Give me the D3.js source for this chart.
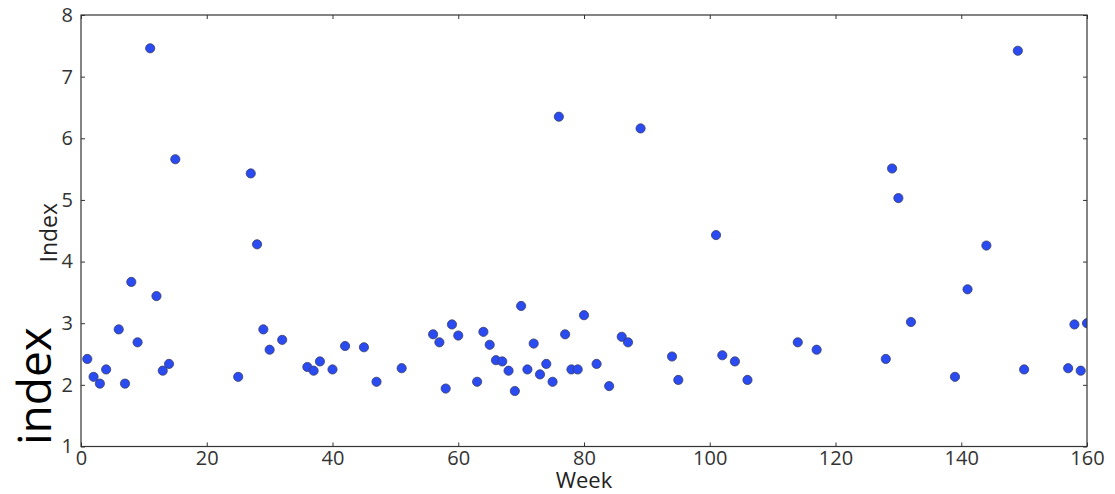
<!DOCTYPE html>
<html>
<head>
<meta charset="utf-8">
<script src="https://cdn.jsdelivr.net/npm/d3@7"></script>
<style>
  body { margin: 0; background: #fff; }
  text { font-family: "Open Sans", "Noto Sans", sans-serif; fill: #222; }
  .axis path { display: none; }
  .axis line { stroke: #333; }
  .axis text { font-size: 20px; fill: #333; }
</style>
</head>
<body>
<svg id="chart" width="1115" height="494"></svg>
<script>
// weeks and index values
var weeks = [1, 2, 3, 4, 6, 7, 8, 9, 11, 12, 13, 14, 15, 25, 27, 28, 29, 30, 32, 36,
  37, 38, 40, 42, 45, 47, 51, 56, 57, 58, 59, 60, 63, 64, 65, 66, 67, 68, 69, 70,
  71, 72, 73, 74, 75, 76, 77, 78, 79, 80, 82, 84, 86, 87, 89, 94, 95, 101, 102, 104,
  106, 114, 117, 128, 129, 130, 132, 139, 141, 144, 149, 150, 157, 158, 159, 160];
var values = [2.42, 2.13, 2.02, 2.25, 2.90, 2.02, 3.67, 2.69, 7.46, 3.44, 2.23, 2.34, 5.66, 2.13, 5.43, 4.28, 2.90, 2.57, 2.73, 2.29,
  2.23, 2.38, 2.25, 2.63, 2.61, 2.05, 2.27, 2.82, 2.69, 1.94, 2.98, 2.80, 2.05, 2.86, 2.65, 2.40, 2.38, 2.23, 1.90, 3.28,
  2.25, 2.67, 2.17, 2.34, 2.05, 6.35, 2.82, 2.25, 2.25, 3.13, 2.34, 1.98, 2.78, 2.69, 6.16, 2.46, 2.08, 4.43, 2.48, 2.38,
  2.08, 2.69, 2.57, 2.42, 5.51, 5.03, 3.02, 2.13, 3.55, 4.26, 7.42, 2.25, 2.27, 2.98, 2.23, 3.00];
var xTicks = [0, 20, 40, 60, 80, 100, 120, 140, 160];
var yTicks = [1, 2, 3, 4, 5, 6, 7, 8];

var margin = {top: 15, right: 28, bottom: 47.5, left: 81};
var width = 1115 - margin.left - margin.right;
var height = 494 - margin.top - margin.bottom;

var svg = d3.select("#chart");
var g = svg.append("g")
  .attr("transform", "translate(" + margin.left + "," + margin.top + ")");

var x = d3.scaleLinear().domain([0, 160]).range([0, width]);
var y = d3.scaleLinear().domain([1, 8]).range([height, 0]);

// clip the markers at the frame, like the original
g.append("clipPath").attr("id", "clip")
  .append("rect").attr("width", width).attr("height", height);

// ticks point inward on all four sides
g.append("g").attr("class", "axis")
  .attr("transform", "translate(0," + height + ")")
  .call(d3.axisBottom(x).tickValues(xTicks).tickFormat(d3.format("d"))
    .tickSizeInner(-4).tickSizeOuter(0).tickPadding(4));
g.append("g").attr("class", "axis")
  .call(d3.axisTop(x).tickValues(xTicks).tickSizeInner(-4).tickSizeOuter(0).tickFormat(""));
g.append("g").attr("class", "axis")
  .call(d3.axisLeft(y).tickValues(yTicks).tickFormat(d3.format("d"))
    .tickSizeInner(-4).tickSizeOuter(0).tickPadding(8));
g.append("g").attr("class", "axis")
  .attr("transform", "translate(" + width + ",0)")
  .call(d3.axisRight(y).tickValues(yTicks).tickSizeInner(-4).tickSizeOuter(0).tickFormat(""));

var data = weeks.map(function(w, i) { return {week: w, value: values[i]}; });

g.append("g").attr("clip-path", "url(#clip)")
  .selectAll("circle")
  .data(data)
  .enter()
  .append("circle")
    .attr("cx", function(d) { return x(d.week); })
    .attr("cy", function(d) { return y(d.value); })
    .attr("r", 4.6)
    .attr("fill", "#2a4af2")
    .attr("stroke", "#3a3f66")
    .attr("stroke-width", 0.8);

// frame
g.append("rect")
  .attr("width", width).attr("height", height)
  .attr("fill", "none").attr("stroke", "#333").attr("stroke-width", 1.2);

// axis labels
svg.append("text")
  .attr("x", margin.left + width / 2).attr("y", 488)
  .attr("text-anchor", "middle").style("font-size", "22px")
  .text("Week");
svg.append("text")
  .attr("transform", "translate(57," + (margin.top + height / 2 + 2) + ") rotate(-90)")
  .attr("text-anchor", "middle").style("font-size", "23px")
  .text("Index");
svg.append("text")
  .attr("transform", "translate(51,445) rotate(-90)")
  .attr("text-anchor", "start").style("font-size", "46px")
  .style("fill", "#000")
  .text("index");
</script>
</body>
</html>
